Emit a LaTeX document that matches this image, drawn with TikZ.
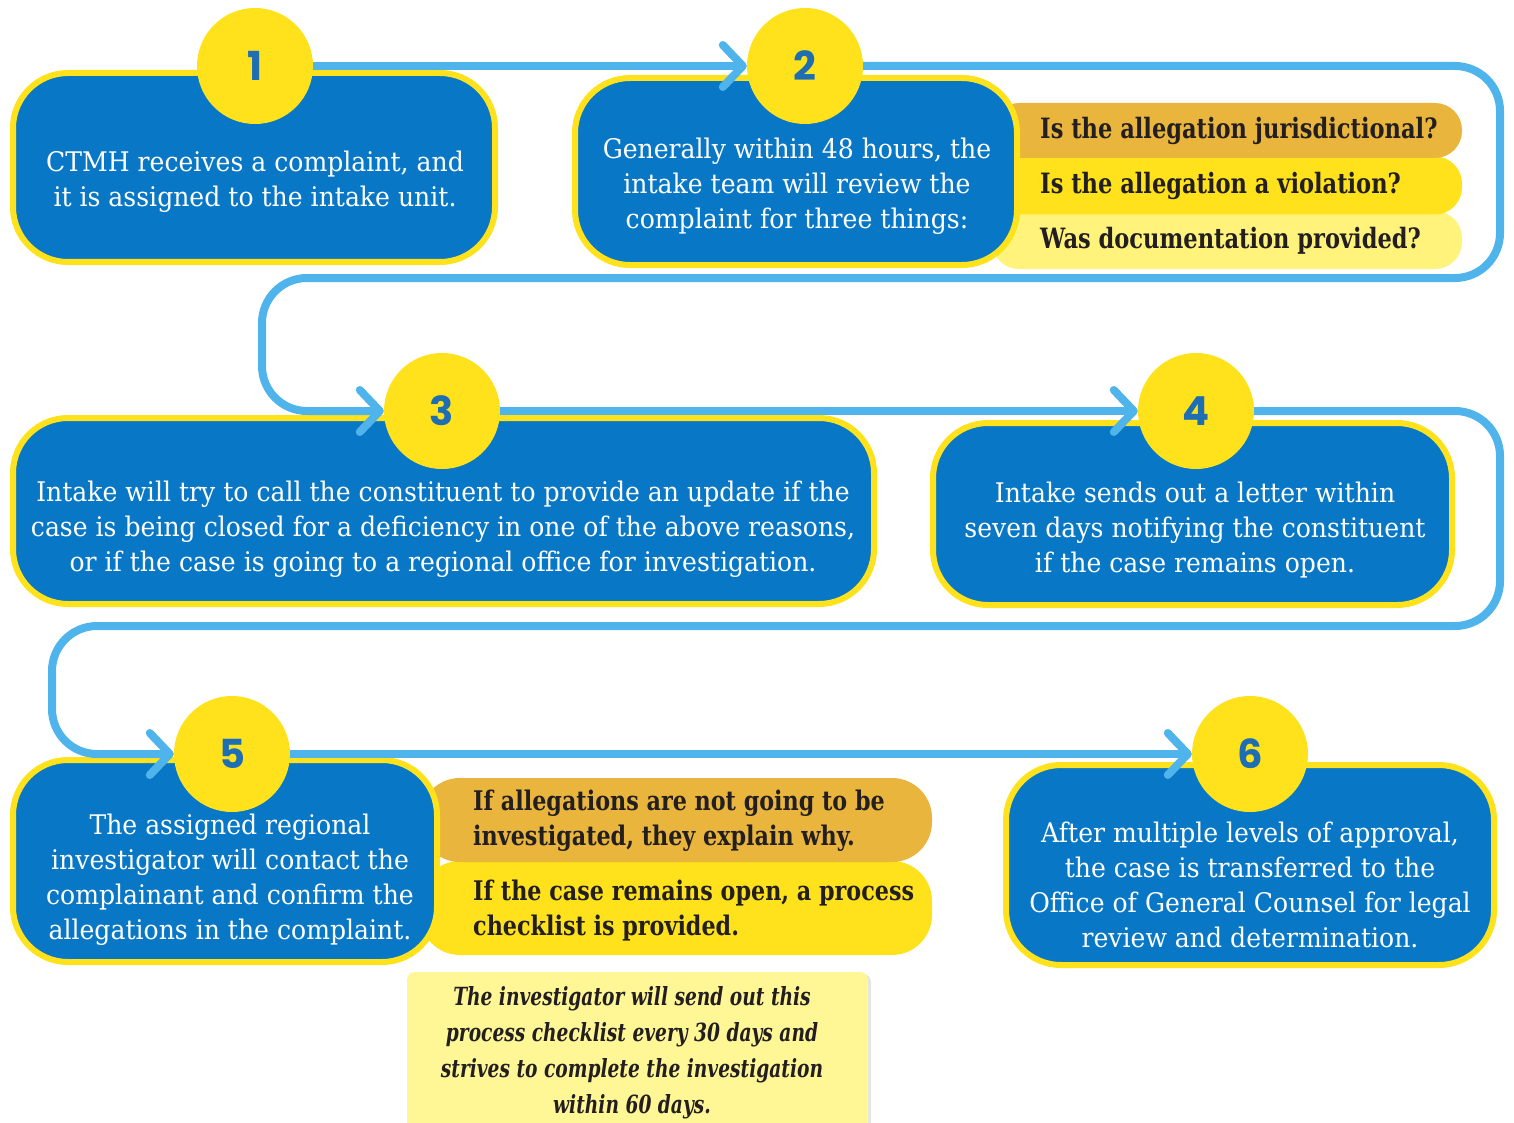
\documentclass[tikz,border=0pt]{standalone}
\usepackage{fontspec}
\setmainfont{DejaVu Serif}
\newfontfamily\numfont{Poppins}
\usepackage{graphicx}
\usetikzlibrary{arrows.meta}
\definecolor{boxblue}{RGB}{8,120,198}
\definecolor{lineblue}{RGB}{80,180,236}
\definecolor{yel}{RGB}{255,226,27}
\definecolor{gold}{RGB}{233,181,60}
\definecolor{paleyel}{RGB}{255,243,124}
\definecolor{notey}{RGB}{255,246,150}
\definecolor{numblue}{RGB}{30,110,180}
\definecolor{ink}{RGB}{35,31,32}
\newcommand{\hsc}[2]{\scalebox{#1}[1]{#2}}
\newcommand{\boxfnt}{\fontsize{27}{35}\selectfont}
\newcommand{\pillfnt}{\bfseries\fontsize{28}{35}\selectfont}
\newcommand{\pillfntb}{\bfseries\fontsize{27}{35}\selectfont}
\newcommand{\notefnt}{\bfseries\itshape\fontsize{25}{36}\selectfont}
\begin{document}
\begin{tikzpicture}[x=1pt,y=-1pt,
  bluebox/.style={rectangle, fill=boxblue, draw=yel, line width=6pt, rounded corners=55pt, inner sep=0pt},
  numcircle/.style={circle, fill=yel, minimum size=116pt, inner sep=0pt, font=\numfont\bfseries\fontsize{40}{40}\selectfont, text=numblue},
  flow/.style={draw=lineblue, line width=8pt, rounded corners=45pt},
  arr/.style={-{Straight Barb[length=20pt,width=42pt,line cap=round,line join=round]}},
  boxtext/.style={text=white, inner sep=0pt},
  pill/.style={rectangle, inner sep=0pt, draw=none},
  pilltext/.style={text=ink, inner sep=0pt, anchor=west},
]
\useasboundingbox[fill=white] (0,0) rectangle (1514,1123);

% ---- pills behind box 2
\node[pill, fill=paleyel, rounded corners=27pt, minimum width=470pt, minimum height=58pt] (p2c) at (1227,240) {};
\node[pill, fill=yel, rounded corners=27pt, minimum width=470pt, minimum height=58pt] (p2b) at (1227,185.5) {};
\node[pill, fill=gold, rounded corners=27pt, minimum width=470pt, minimum height=55pt] (p2a) at (1227,130.5) {};
% ---- pills behind box 5
\node[pill, fill=yel, rounded corners=40pt, minimum width=512pt, minimum height=94pt] (p5b) at (676,908) {};
\node[pill, fill=gold, rounded corners=40pt, minimum width=512pt, minimum height=84pt] (p5a) at (676,820) {};
% ---- note (with faint shadow)
\node[rectangle, fill=black!10, rounded corners=8pt, minimum width=461pt, minimum height=160pt, inner sep=0pt] (notesh) at (640.5,1054) {};
\node[rectangle, fill=notey, rounded corners=8pt, minimum width=461pt, minimum height=160pt, inner sep=0pt] (note) at (637.5,1052) {};

% ---- boxes
\node[bluebox, minimum width=482pt, minimum height=189pt] (b1) at (254,167.5) {};
\node[bluebox, minimum width=442pt, minimum height=187pt] (b2) at (796,171.5) {};
\node[bluebox, minimum width=861pt, minimum height=186pt] (b3) at (443.5,511) {};
\node[bluebox, minimum width=519pt, minimum height=182pt] (b4) at (1192.5,514) {};
\node[bluebox, minimum width=424pt, minimum height=202pt] (b5) at (225,861) {};
\node[bluebox, minimum width=488pt, minimum height=200pt] (b6) at (1250,865) {};

% ---- box texts
\node[boxtext] (t1) at (255,182) {\hsc{0.93}{\boxfnt\begin{tabular}{@{}c@{}}CTMH receives a complaint, and\\it is assigned to the intake unit.\end{tabular}}};
\node[boxtext] (t2) at (797,187) {\hsc{0.93}{\boxfnt\begin{tabular}{@{}c@{}}Generally within 48 hours, the\\intake team will review the\\complaint for three things:\end{tabular}}};
\node[boxtext] (t3) at (443,529) {\hsc{0.93}{\boxfnt\begin{tabular}{@{}c@{}}Intake will try to call the constituent to provide an update if the\\case is being closed for a deficiency in one of the above reasons,\\or if the case is going to a regional office for investigation.\end{tabular}}};
\node[boxtext] (t4) at (1195,530) {\hsc{0.93}{\boxfnt\begin{tabular}{@{}c@{}}Intake sends out a letter within\\seven days notifying the constituent\\if the case remains open.\end{tabular}}};
\node[boxtext] (t5) at (230,880) {\hsc{0.93}{\boxfnt\begin{tabular}{@{}c@{}}The assigned regional\\investigator will contact the\\complainant and confirm the\\allegations in the complaint.\end{tabular}}};
\node[boxtext] (t6) at (1250,888) {\hsc{0.93}{\boxfnt\begin{tabular}{@{}c@{}}After multiple levels of approval,\\the case is transferred to the\\Office of General Counsel for legal\\review and determination.\end{tabular}}};

% ---- pill texts
\node[pilltext] (q1) at (1040,131) {\hsc{0.805}{\pillfnt Is the allegation jurisdictional?}};
\node[pilltext] (q2) at (1040,186) {\hsc{0.805}{\pillfnt Is the allegation a violation?}};
\node[pilltext] (q3) at (1040,241) {\hsc{0.805}{\pillfnt Was documentation provided?}};
\node[pilltext] (r1) at (473,821) {\hsc{0.825}{\pillfntb\begin{tabular}{@{}l@{}}If allegations are not going to be\\investigated, they explain why.\end{tabular}}};
\node[pilltext] (r2) at (473,911) {\hsc{0.825}{\pillfntb\begin{tabular}{@{}l@{}}If the case remains open, a process\\checklist is provided.\end{tabular}}};
\node[text=ink, inner sep=0pt] (nt) at (632,1052) {\hsc{0.745}{\notefnt\begin{tabular}{@{}c@{}}The investigator will send out this\\process checklist every 30 days and\\strives to complete the investigation\\within 60 days.\end{tabular}}};

% ---- circles
\node[numcircle] (c1) at (255,66) {1};
\node[numcircle] (c2) at (805,66) {2};
\node[numcircle] (c3) at (442,411) {3};
\node[numcircle] (c4) at (1196,411) {4};
\node[numcircle] (c5) at (232,754) {5};
\node[numcircle] (c6) at (1250,754) {6};

% ---- connectors
\draw[flow, arr] (c1.east) -- (c2.west);
\draw[flow, arr] (c2.east) -- (1500,66) -- (1500,278) -- (262,278) |- (c3.west);
\draw[flow, arr] (c3.east) -- (c4.west);
\draw[flow, arr] (c4.east) -- (1500,411) -- (1500,626) -- (52,626) |- (c5.west);
\draw[flow, arr] (c5.east) -- (c6.west);
\end{tikzpicture}
\end{document}
